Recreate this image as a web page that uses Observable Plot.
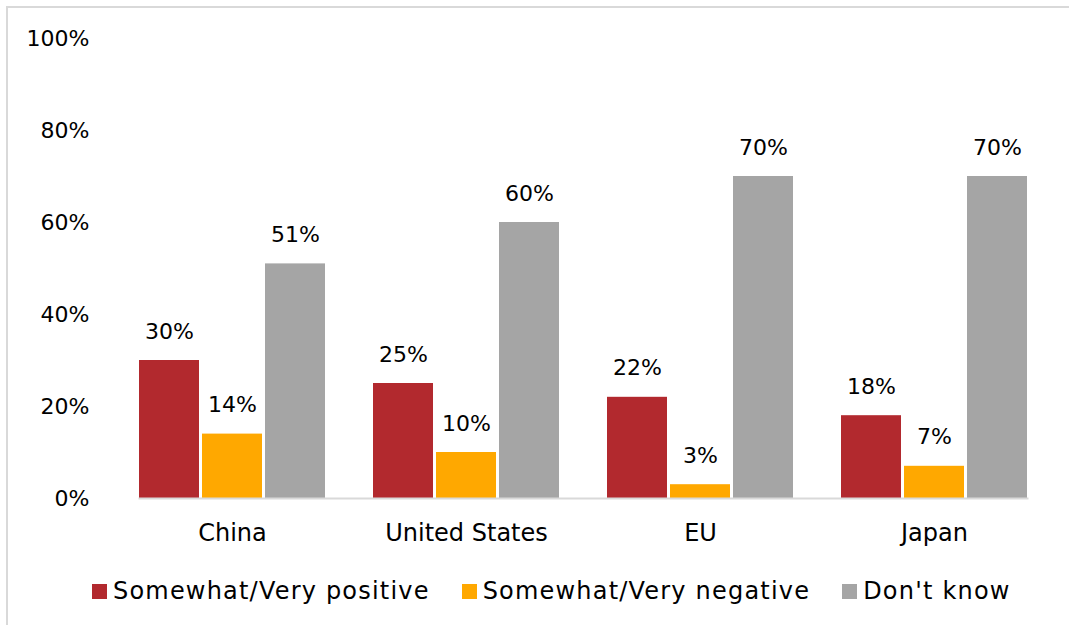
<!DOCTYPE html>
<html>
<head>
<meta charset="utf-8">
<script src="https://cdn.jsdelivr.net/npm/d3@7"></script>
<script src="https://cdn.jsdelivr.net/npm/@observablehq/plot@0.6"></script>
<style>
  html, body { margin: 0; padding: 0; background: #fff; overflow: hidden; width: 1069px; height: 625px; }
  #frame { position: absolute; left: 6px; top: 6px; width: 1080px; height: 660px; border: 2px solid #d9d9d9; box-sizing: border-box; }
  #chart { position: absolute; left: 0; top: 0; }
  #legend { position: absolute; left: 92px; top: 577px; display: flex; align-items: center; font-family: "DejaVu Sans", sans-serif; font-size: 24px; letter-spacing: 1.2px; color: #000; }
  .item { display: flex; align-items: center; margin-right: 32px; }
  .sw { width: 15px; height: 15px; margin-right: 6px; }
</style>
</head>
<body>
<div id="frame"></div>
<div id="chart"></div>
<div id="legend"></div>
<script>
const countries = ["China", "United States", "EU", "Japan"];
const seriesNames = ["Somewhat/Very positive", "Somewhat/Very negative", "Don't know"];
const positive = [30, 25, 22, 18];
const negative = [14, 10, 3, 7];
const dontKnow = [51, 60, 70, 70];
const colors = ["#B2292E", "#FFA800", "#A5A5A5"];
const yTicks = [0, 20, 40, 60, 80, 100];

const seriesValues = [positive, negative, dontKnow];
const data = [];
countries.forEach((c, i) => {
  seriesNames.forEach((s, j) => {
    data.push({country: c, series: s, value: seriesValues[j][i]});
  });
});

const font = "DejaVu Sans, sans-serif";
const plot = Plot.plot({
  width: 1069,
  height: 560,
  marginTop: 38,
  marginBottom: 62,
  marginLeft: 114,
  marginRight: 17,
  style: {fontFamily: font, fontSize: "22px", color: "#000", background: "transparent"},
  fx: {domain: countries, paddingInner: 0.205, paddingOuter: 0.1025, label: null},
  x: {domain: seriesNames, paddingInner: 0.05, paddingOuter: 0, axis: null},
  y: {domain: [0, 100], label: null},
  color: {domain: seriesNames, range: colors},
  marks: [
    Plot.axisY(yTicks, {tickFormat: d => d + "%", tickSize: 0, tickPadding: 0, dx: -50, fontSize: 22, label: null}),
    Plot.axisFx({anchor: "bottom", tickSize: 0, tickPadding: 0, dy: 25, fontSize: 24, style: "letter-spacing: 1.5px", label: null}),
    Plot.barY(data, {fx: "country", x: "series", y: "value", fill: "series"}),
    Plot.text(data, {fx: "country", x: "series", y: "value", text: d => d.value + "%", dy: -29, fill: "#000", fontSize: 22}),
    Plot.frame({anchor: "bottom", stroke: "#d9d9d9", strokeWidth: 2, facet: "super"})
  ]
});
document.getElementById("chart").appendChild(plot);

const legend = document.getElementById("legend");
seriesNames.forEach((s, j) => {
  const item = document.createElement("div");
  item.className = "item";
  const sw = document.createElement("div");
  sw.className = "sw";
  sw.style.background = colors[j];
  const t = document.createElement("span");
  t.textContent = s;
  item.appendChild(sw);
  item.appendChild(t);
  legend.appendChild(item);
});
</script>
</body>
</html>
